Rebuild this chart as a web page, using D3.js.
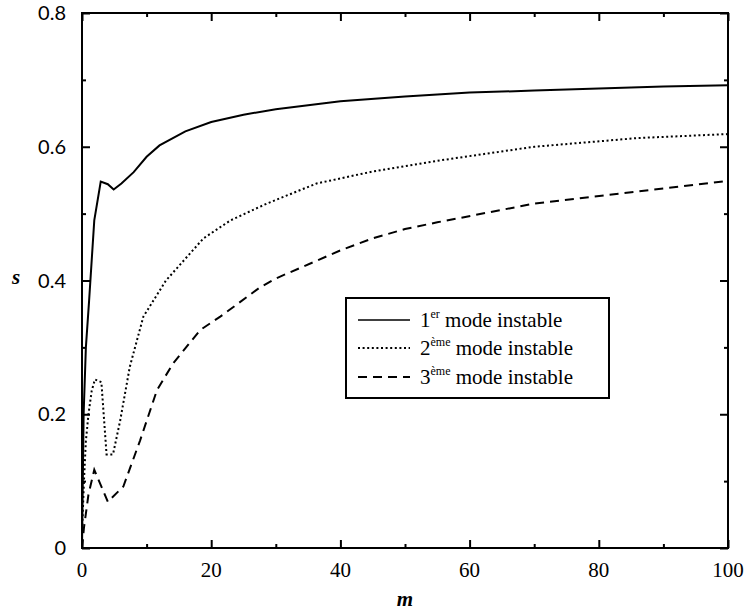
<!DOCTYPE html>
<html>
<head>
<meta charset="utf-8">
<script src="https://cdn.jsdelivr.net/npm/d3@7"></script>
<style>
  body { margin: 0; background: #fff; }
</style>
</head>
<body>
<script>
// values
var mMode1 = [0, 0.25, 0.6, 1.1, 1.9, 2.9, 4.0, 4.9, 6.1, 8, 10, 12, 16, 20, 25, 30, 40, 50, 55, 60, 70, 80, 90, 100];
var sMode1 = [0, 0.2, 0.3, 0.37, 0.49, 0.548, 0.544, 0.536, 0.545, 0.562, 0.585, 0.602, 0.623, 0.637, 0.648, 0.656, 0.668, 0.675, 0.678, 0.681, 0.684, 0.687, 0.690, 0.692];

var mMode2 = [0, 0.3, 0.6, 1.0, 1.5, 2.0, 3.0, 3.8, 4.8, 5.9, 7.4, 9.5, 13, 18.8, 23, 28.6, 36.3, 45, 55, 70, 86, 100];
var sMode2 = [0.02, 0.1, 0.16, 0.2, 0.235, 0.252, 0.248, 0.14, 0.14, 0.19, 0.271, 0.346, 0.4, 0.463, 0.49, 0.515, 0.545, 0.563, 0.579, 0.6, 0.613, 0.619];

var mMode3 = [0, 0.3, 1.0, 1.9, 4.0, 4.6, 6.4, 9, 11.6, 14.1, 18.3, 21.4, 27.6, 30, 40, 45, 50, 55, 70, 86, 100];
var sMode3 = [0, 0.03, 0.08, 0.117, 0.069, 0.075, 0.092, 0.161, 0.236, 0.276, 0.326, 0.346, 0.39, 0.403, 0.445, 0.463, 0.477, 0.487, 0.515, 0.533, 0.549];

var xTicks = [0, 20, 40, 60, 80, 100];
var xMinor = [10, 30, 50, 70, 90];
var yTicks = [0, 0.2, 0.4, 0.6, 0.8];
var yMinor = [0.1, 0.3, 0.5, 0.7];

var legendOrd = ["1", "2", "3"];
var legendSup = ["er", "ème", "ème"];
var legendTxt = " mode instable";

var width = 748,
    height = 614;
var pLeft = 82, pRight = 728, pTop = 13, pBottom = 548;

var svg = d3.select("body")
            .append("svg")
            .attr("width", width)
            .attr("height", height);

var x = d3.scaleLinear().domain([0, 100]).range([pLeft, pRight]);
var y = d3.scaleLinear().domain([0, 0.8]).range([pBottom, pTop]);

svg.append("clipPath").attr("id", "clip")
   .append("rect")
   .attr("x", pLeft).attr("y", pTop)
   .attr("width", pRight - pLeft).attr("height", pBottom - pTop);

// ticks on all four sides, pointing inward
function mirrorAxis(axisFn, scale, ticks, size, pos) {
    svg.append("g")
       .attr("transform", pos)
       .call(axisFn(scale).tickValues(ticks).tickSize(size).tickFormat(""))
       .call(g => g.select(".domain").remove())
       .selectAll("line").attr("stroke", "#000").attr("stroke-width", 2);
}
mirrorAxis(d3.axisTop, x, xTicks, 8, "translate(0," + pBottom + ")");
mirrorAxis(d3.axisTop, x, xMinor, 4, "translate(0," + pBottom + ")");
mirrorAxis(d3.axisBottom, x, xTicks, 8, "translate(0," + pTop + ")");
mirrorAxis(d3.axisBottom, x, xMinor, 4, "translate(0," + pTop + ")");
mirrorAxis(d3.axisRight, y, yTicks, 8, "translate(" + pLeft + ",0)");
mirrorAxis(d3.axisRight, y, yMinor, 4, "translate(" + pLeft + ",0)");
mirrorAxis(d3.axisLeft, y, yTicks, 8, "translate(" + pRight + ",0)");
mirrorAxis(d3.axisLeft, y, yMinor, 4, "translate(" + pRight + ",0)");

svg.append("rect")
   .attr("x", pLeft).attr("y", pTop)
   .attr("width", pRight - pLeft).attr("height", pBottom - pTop)
   .attr("fill", "none")
   .attr("stroke", "#000")
   .attr("stroke-width", 2);

// tick labels
svg.append("g")
   .selectAll("text")
   .data(xTicks)
   .enter()
   .append("text")
      .attr("x", d => x(d))
      .attr("y", pBottom + 29)
      .attr("text-anchor", "middle")
      .attr("font-family", "Liberation Serif")
      .attr("font-size", 21)
      .text(d => d);

svg.append("g")
   .selectAll("text")
   .data(yTicks)
   .enter()
   .append("text")
      .attr("x", pLeft - 16)
      .attr("y", d => y(d) + 7)
      .attr("text-anchor", "end")
      .attr("font-family", "Lato")
      .attr("font-size", 20)
      .text(d => d === 0 ? "0" : d3.format(".1f")(d));

svg.append("text")
   .attr("x", (pLeft + pRight) / 2)
   .attr("y", 606)
   .attr("text-anchor", "middle")
   .attr("font-family", "Liberation Serif")
   .attr("font-style", "italic")
   .attr("font-weight", "bold")
   .attr("font-size", 21)
   .text("m");

svg.append("text")
   .attr("x", 16)
   .attr("y", y(0.4) + 3)
   .attr("text-anchor", "middle")
   .attr("font-family", "Liberation Serif")
   .attr("font-style", "italic")
   .attr("font-weight", "bold")
   .attr("font-size", 21)
   .text("s");

// curves
var styles = [
    { dash: null, m: mMode1, s: sMode1 },
    { dash: "2,2.6", m: mMode2, s: sMode2 },
    { dash: "9,6", m: mMode3, s: sMode3 }
];

var line = d3.line()
             .x(d => x(d[0]))
             .y(d => y(d[1]));

var curves = svg.append("g").attr("clip-path", "url(#clip)");
curves.selectAll("path")
      .data(styles)
      .enter()
      .append("path")
         .attr("d", d => line(d3.zip(d.m, d.s)))
         .attr("fill", "none")
         .attr("stroke", "#000")
         .attr("stroke-width", 2)
         .attr("stroke-dasharray", d => d.dash);

// legend
var lg = svg.append("g");
lg.append("rect")
  .attr("x", 346).attr("y", 298)
  .attr("width", 263).attr("height", 100)
  .attr("fill", "#fff")
  .attr("stroke", "#000")
  .attr("stroke-width", 2);

var rowY = [320, 348, 377];
styles.forEach(function(st, i) {
    lg.append("line")
      .attr("x1", 358).attr("x2", 410)
      .attr("y1", rowY[i]).attr("y2", rowY[i])
      .attr("stroke", "#000")
      .attr("stroke-width", i === 0 ? 1.5 : 2)
      .attr("stroke-dasharray", st.dash);
    var t = lg.append("text")
      .attr("x", 420)
      .attr("y", rowY[i] + 7)
      .attr("font-family", "Liberation Serif")
      .attr("font-size", 21);
    t.append("tspan").text(legendOrd[i]);
    t.append("tspan")
     .attr("dy", -9)
     .attr("font-size", 12)
     .text(legendSup[i]);
    t.append("tspan")
     .attr("dy", 9)
     .text(legendTxt);
});
</script>
</body>
</html>
